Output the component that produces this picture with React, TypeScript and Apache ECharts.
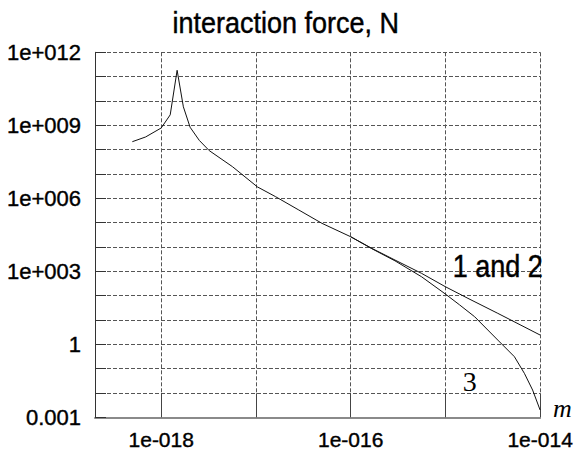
import React, { useEffect, useRef } from 'react';
import * as echarts from 'echarts';

// log10 of distance (m) and log10 of force (N)
const distLog12 = [-18.305, -18.165, -18.0, -17.905, -17.832, -17.766, -17.695, -17.598, -17.493, -17.248, -16.985, -16.792, -16.547, -16.303, -16.0, -15.777, -15.532, -15.252, -15.0, -14.762, -14.447, -14.0];
const forceLog12 = [8.326, 8.52, 8.89, 9.43, 11.26, 9.76, 8.92, 8.38, 7.96, 7.3, 6.47, 6.065, 5.518, 4.971, 4.421, 3.944, 3.463, 2.917, 2.366, 1.889, 1.273, 0.381];

const distLog3 = [-16.0, -15.777, -15.532, -15.252, -15.0, -14.85, -14.691, -14.447, -14.271, -14.166, -14.079, -14.0];
const forceLog3 = [4.421, 3.93, 3.43, 2.777, 2.066, 1.62, 1.133, 0.175, -0.511, -1.193, -1.88, -2.7];

const xTickLabels: Record<string, string> = { '-18': '1e-018', '-16': '1e-016', '-14': '1e-014' };
const yTickLabels: Record<string, string> = { '-3': '0.001', '0': '1', '3': '1e+003', '6': '1e+006', '9': '1e+009', '12': '1e+012' };

const X_MIN_LOG = Math.log10(2e-19);
const X_MAX_LOG = -14;
const Y_MIN_LOG = -3;
const Y_MAX_LOG = 12;

const SANS = '"Liberation Sans", Arial, sans-serif';
const SERIF = '"Liberation Serif", "Times New Roman", serif';

const labelFor = (table: Record<string, string>) => (v: number) => {
  const r = Math.round(v);
  if (Math.abs(v - r) > 1e-6) return '';
  return table[String(r)] ?? '';
};

export default function App() {
  const ref = useRef<HTMLDivElement>(null);
  useEffect(() => {
    if (!ref.current) return;
    const chart = echarts.init(ref.current, undefined, { renderer: 'svg' });
    const gridDash = { color: '#555', width: 1, type: [4, 2] as number[] };
    chart.setOption({
      animation: false,
      backgroundColor: '#fff',
      grid: { left: 95, top: 52.3, width: 447.3, height: 365, containLabel: false },
      xAxis: {
        type: 'value',
        min: X_MIN_LOG,
        max: X_MAX_LOG,
        splitNumber: 5,
        axisLine: { show: true, onZero: false, lineStyle: { color: '#8a8a8a', width: 2 } },
        axisTick: { show: true, inside: true, length: 24, lineStyle: { color: '#444', width: 1 } },
        axisLabel: {
          formatter: labelFor(xTickLabels),
          color: '#000',
          fontSize: 21,
          fontFamily: SANS,
          textBorderColor: '#000',
          textBorderWidth: 0.4,
          margin: 12,
          showMinLabel: false,
        },
        splitLine: { show: true, lineStyle: gridDash },
      },
      yAxis: {
        type: 'value',
        min: Y_MIN_LOG,
        max: Y_MAX_LOG,
        interval: 1,
        axisLine: { show: true, onZero: false, lineStyle: { color: '#333', width: 1 } },
        axisTick: { show: true, inside: true, length: 11, lineStyle: { color: '#333', width: 1 } },
        axisLabel: {
          formatter: labelFor(yTickLabels),
          color: '#000',
          fontSize: 22,
          fontFamily: SANS,
          textBorderColor: '#000',
          textBorderWidth: 0.4,
          margin: 14,
        },
        splitLine: { show: true, lineStyle: gridDash },
      },
      series: [
        {
          type: 'line',
          name: '1 and 2',
          data: distLog12.map((x, i) => [x, forceLog12[i]]),
          symbol: 'none',
          lineStyle: { color: '#111', width: 1 },
          z: 5,
        },
        {
          type: 'line',
          name: '3',
          data: distLog3.map((x, i) => [x, forceLog3[i]]),
          symbol: 'none',
          lineStyle: { color: '#111', width: 1 },
          z: 5,
        },
      ],
      graphic: [
        {
          type: 'text',
          x: 285.7,
          y: 23,
          scaleY: 1.1,
          style: {
            text: 'interaction force, N',
            font: '27px ' + SANS,
            fill: '#000',
            stroke: '#000',
            lineWidth: 0.4,
            textAlign: 'center',
            textVerticalAlign: 'middle',
          },
        },
        {
          type: 'text',
          x: 542.7,
          y: 266,
          z: 10,
          scaleY: 1.15,
          style: {
            text: '1 and 2',
            font: '27px ' + SANS,
            fill: '#000',
            stroke: '#000',
            lineWidth: 0.4,
            textAlign: 'right',
            textVerticalAlign: 'middle',
          },
        },
        {
          type: 'text',
          x: 469.7,
          y: 381,
          z: 10,
          style: {
            text: '3',
            font: '28px ' + SERIF,
            fill: '#000',
            textAlign: 'center',
            textVerticalAlign: 'middle',
          },
        },
        {
          type: 'text',
          x: 562.3,
          y: 408.5,
          z: 10,
          style: {
            text: 'm',
            font: 'italic 26px ' + SERIF,
            fill: '#000',
            textAlign: 'center',
            textVerticalAlign: 'middle',
          },
        },
      ],
    });
    return () => chart.dispose();
  }, []);
  return (
    <div
      ref={ref}
      style={{ position: 'fixed', left: 0, top: 0, width: 576, height: 459, background: '#fff' }}
    />
  );
}
